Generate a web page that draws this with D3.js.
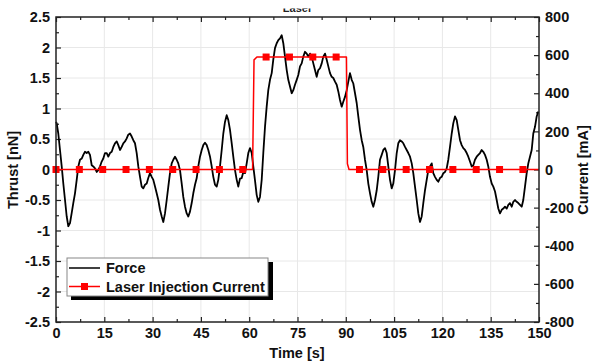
<!DOCTYPE html>
<html>
<head>
<meta charset="utf-8">
<script src="https://cdn.jsdelivr.net/npm/d3@7"></script>
<style>
  html, body { margin: 0; padding: 0; background: #fff; }
  svg { display: block; }
  text { font-family: "Liberation Sans", Arial, sans-serif; font-weight: bold; }
</style>
</head>
<body>
<svg id="chart" width="595" height="361"></svg>
<script>
// Measured thrust (nN) against time (s)
const forceTime = [0,0.2,0.71,1.24,1.77,2.27,2.80,3.32,3.82,4.35,4.88,5.37,5.90,6.43,6.93,7.45,7.98,8.48,9.01,9.53,10.03,10.56,11.09,11.58,12.11,12.64,13.14,13.66,14.19,14.69,15.22,15.75,16.24,16.77,17.30,17.80,18.32,18.85,19.35,19.88,20.40,20.90,21.43,21.96,22.45,22.98,23.51,24.01,24.53,25.06,25.56,26.09,26.61,27.11,27.64,28.17,28.66,29.19,29.72,30.22,30.75,31.27,31.77,32.30,32.83,33.32,33.85,34.38,34.88,35.40,35.93,36.43,36.96,37.48,37.98,38.51,39.04,39.53,40.06,40.59,41.09,41.61,42.14,42.64,43.17,43.70,44.19,44.72,45.25,45.75,46.27,46.80,47.30,47.83,48.35,48.85,49.38,49.91,50.40,50.93,51.46,51.96,52.48,53.01,53.51,54.04,54.57,55.06,55.59,56.12,56.61,57.14,57.67,58.17,58.70,59.22,59.72,60.25,60.78,61.27,61.80,62.33,62.83,63.35,63.88,64.38,64.91,65.43,65.93,66.46,66.99,67.48,68.01,68.54,69.04,69.57,70.09,70.59,71.12,71.65,72.14,72.67,73.20,73.70,74.22,74.75,75.25,75.78,76.30,76.80,77.33,77.86,78.35,78.88,79.41,79.91,80.43,80.96,81.46,81.99,82.52,83.01,83.54,84.07,84.57,85.09,85.62,86.12,86.65,87.17,87.67,88.20,88.73,89.22,89.75,90.28,90.78,91.30,91.83,92.33,92.86,93.38,93.88,94.41,94.94,95.43,95.96,96.49,96.99,97.52,98.04,98.54,99.07,99.60,100.09,100.62,101.15,101.65,102.17,102.70,103.20,103.73,104.25,104.75,105.28,105.81,106.30,106.83,107.36,107.86,108.39,108.91,109.41,109.94,110.47,110.96,111.49,112.02,112.52,113.04,113.57,114.07,114.60,115.12,115.62,116.15,116.68,117.17,117.70,118.23,118.73,119.25,119.78,120.28,120.81,121.34,121.83,122.36,122.89,123.39,123.91,124.44,124.94,125.47,125.99,126.49,127.02,127.55,128.04,128.57,129.10,129.60,130.12,130.65,131.15,131.68,132.20,132.70,133.23,133.76,134.25,134.78,135.31,135.81,136.34,136.86,137.36,137.89,138.42,138.91,139.44,139.97,140.47,140.99,141.52,142.02,142.55,143.07,143.57,144.10,144.63,145.12,145.65,146.18,146.68,147.20,147.73,148.23,148.76,149.28,149.78];
const forceValue = [0.78,0.76,0.59,0.32,0.05,-0.23,-0.50,-0.77,-0.93,-0.88,-0.71,-0.55,-0.39,-0.17,0.05,0.16,0.18,0.24,0.29,0.27,0.29,0.24,0.07,0.05,0.02,-0.04,-0.01,0.05,0.13,0.18,0.27,0.27,0.21,0.27,0.29,0.37,0.43,0.46,0.40,0.32,0.37,0.43,0.46,0.51,0.57,0.59,0.54,0.48,0.43,0.27,0.05,-0.12,-0.28,-0.31,-0.25,-0.23,-0.14,-0.06,-0.12,-0.17,-0.28,-0.39,-0.50,-0.66,-0.77,-0.86,-0.72,-0.50,-0.28,-0.06,0.10,0.16,0.21,0.16,0.10,-0.01,-0.23,-0.45,-0.61,-0.72,-0.77,-0.69,-0.55,-0.39,-0.25,-0.14,0.05,0.21,0.32,0.40,0.44,0.40,0.32,0.21,0.05,-0.12,-0.25,-0.28,-0.17,0.05,0.32,0.59,0.78,0.89,0.81,0.65,0.43,0.21,-0.01,-0.17,-0.28,-0.15,-0.14,-0.04,-0.06,0.10,0.27,0.35,0.27,0.05,-0.18,-0.42,-0.53,-0.45,-0.17,0.27,0.70,1.03,1.30,1.47,1.58,1.80,1.99,2.07,2.12,2.15,2.20,2.07,1.85,1.63,1.47,1.36,1.25,1.30,1.39,1.47,1.55,1.69,1.74,1.85,1.93,1.90,1.85,1.90,1.85,1.74,1.63,1.52,1.63,1.66,1.74,1.85,1.90,1.80,1.69,1.58,1.52,1.50,1.44,1.39,1.28,1.14,1.03,1.11,1.19,1.30,1.44,1.58,1.47,1.41,1.25,1.09,0.87,0.65,0.48,0.37,0.16,-0.01,-0.23,-0.39,-0.53,-0.61,-0.50,-0.34,-0.12,0.16,0.24,0.32,0.35,0.27,0.05,-0.17,-0.31,-0.23,-0.01,0.27,0.43,0.48,0.46,0.43,0.37,0.32,0.27,0.21,0.10,-0.06,-0.28,-0.50,-0.72,-0.86,-0.77,-0.55,-0.34,-0.17,-0.01,0.05,0.10,-0.06,-0.12,-0.17,-0.20,-0.14,-0.12,-0.06,-0.04,0.02,0.16,0.37,0.59,0.76,0.87,0.81,0.65,0.48,0.40,0.35,0.32,0.27,0.21,0.13,0.05,0.07,0.16,0.21,0.24,0.27,0.32,0.29,0.24,0.16,0.05,-0.12,-0.23,-0.28,-0.36,-0.50,-0.64,-0.72,-0.66,-0.64,-0.61,-0.64,-0.58,-0.55,-0.61,-0.53,-0.50,-0.53,-0.55,-0.58,-0.61,-0.50,-0.28,-0.06,0.10,0.21,0.32,0.59,0.70,0.87,0.95];

// Laser injection current (mA) against time (s)
const currentTime  = [0, 61.05, 61.5, 62.4, 90.2, 90.5, 91.0, 150];
const currentValue = [0, 0, 575, 590, 590, 30, 0, 0];

// Square symbols on the current trace
const markerTime    = [0,7.25,14.5,21.75,29,36.25,43.5,50.75,58,65.25,72.5,79.75,87,94.25,101.5,108.75,116,123.25,130.5,137.75,145];
const markerCurrent = [0,0,0,0,0,0,0,0,0,590,590,590,590,0,0,0,0,0,0,0,0];

// Tick values
const xTicks      = [0,15,30,45,60,75,90,105,120,135,150];
const xMinor      = [7.5,22.5,37.5,52.5,67.5,82.5,97.5,112.5,127.5,142.5];
const yLeftTicks  = [-2.5,-2,-1.5,-1,-0.5,0,0.5,1,1.5,2,2.5];
const yLeftMinor  = [-2.25,-1.75,-1.25,-0.75,-0.25,0.25,0.75,1.25,1.75,2.25];
const yRightTicks = [-800,-600,-400,-200,0,200,400,600,800];
const yRightMinor = [-700,-500,-300,-100,100,300,500,700];

const svg = d3.select("#chart");
const L = 56, R = 539, T = 17, B = 322;
const FS = 14.5;
const plain = d => String(d);   // hyphen-minus labels

const x  = d3.scaleLinear().domain([0,150]).range([L,R]);
const yL = d3.scaleLinear().domain([-2.5,2.5]).range([B,T]);
const yR = d3.scaleLinear().domain([-800,800]).range([B,T]);

// Title strip, mostly outside the drawn area
svg.append("clipPath").attr("id","titleClip")
  .append("rect").attr("x",0).attr("y",8.5).attr("width",595).attr("height",5);
svg.append("text").attr("clip-path","url(#titleClip)")
  .attr("x",297.5).attr("y",11.5).attr("text-anchor","middle")
  .attr("font-size",11).attr("fill","#222").text("Laser");

// Grid
const grid = svg.append("g").attr("stroke","#e8e8e8").attr("stroke-width",1);
grid.selectAll(".gx").data(xTicks.slice(1,-1)).join("line")
  .attr("x1",d=>x(d)).attr("x2",d=>x(d)).attr("y1",T).attr("y2",B);
grid.selectAll(".gy").data(yLeftTicks.slice(1,-1)).join("line")
  .attr("y1",d=>yL(d)).attr("y2",d=>yL(d)).attr("x1",L).attr("x2",R);

// Axes with inward ticks
function styleAxis(g){
  g.select(".domain").remove();
  g.selectAll(".tick line").attr("stroke","#222").attr("stroke-width",1.2);
  g.selectAll(".tick text").attr("font-size",FS).attr("fill","#111")
    .style("font-family",'"Liberation Sans", Arial, sans-serif').style("font-weight","bold");
}
svg.append("g").attr("transform",`translate(0,${B})`)
  .call(d3.axisBottom(x).tickValues(xTicks).tickSize(-5).tickPadding(6).tickFormat(plain))
  .call(styleAxis);
svg.append("g").attr("transform",`translate(0,${B})`)
  .call(d3.axisBottom(x).tickValues(xMinor).tickSize(-3).tickFormat(""))
  .call(styleAxis);
svg.append("g").attr("transform",`translate(0,${T})`)
  .call(d3.axisTop(x).tickValues(xTicks).tickSize(-5).tickFormat(""))
  .call(styleAxis);
svg.append("g").attr("transform",`translate(0,${T})`)
  .call(d3.axisTop(x).tickValues(xMinor).tickSize(-3).tickFormat(""))
  .call(styleAxis);
svg.append("g").attr("transform",`translate(${L},0)`)
  .call(d3.axisLeft(yL).tickValues(yLeftTicks).tickSize(-5).tickPadding(6).tickFormat(plain))
  .call(styleAxis);
svg.append("g").attr("transform",`translate(${L},0)`)
  .call(d3.axisLeft(yL).tickValues(yLeftMinor).tickSize(-3).tickFormat(""))
  .call(styleAxis);
svg.append("g").attr("transform",`translate(${R},0)`)
  .call(d3.axisRight(yR).tickValues(yRightTicks).tickSize(-5).tickPadding(6).tickFormat(plain))
  .call(styleAxis);
svg.append("g").attr("transform",`translate(${R},0)`)
  .call(d3.axisRight(yR).tickValues(yRightMinor).tickSize(-3).tickFormat(""))
  .call(styleAxis);

// Force trace
const forceData = forceTime.map((t,i)=>[t, forceValue[i]]);
svg.append("path").datum(forceData)
  .attr("fill","none").attr("stroke","#000").attr("stroke-width",1.8)
  .attr("stroke-linejoin","round")
  .attr("d", d3.line().x(d=>x(d[0])).y(d=>yL(d[1])));

// Current trace with square symbols
const currentData = currentTime.map((t,i)=>[t, currentValue[i]]);
svg.append("path").datum(currentData)
  .attr("fill","none").attr("stroke","#ff0000").attr("stroke-width",1.5)
  .attr("stroke-linejoin","round")
  .attr("d", d3.line().x(d=>x(d[0])).y(d=>yR(d[1])));
const sq = 7;
svg.append("g").attr("fill","#ff0000")
  .selectAll("rect").data(markerTime.map((t,i)=>[t, markerCurrent[i]])).join("rect")
  .attr("x",d=>x(d[0])-sq/2).attr("y",d=>yR(d[1])-sq/2)
  .attr("width",sq).attr("height",sq);

// Frame
svg.append("rect").attr("x",L).attr("y",T).attr("width",R-L).attr("height",B-T)
  .attr("fill","none").attr("stroke","#222").attr("stroke-width",1.5);

// Axis titles
svg.append("text").attr("transform",`translate(18,170) rotate(-90)`)
  .attr("text-anchor","middle").attr("font-size",FS).attr("fill","#111").text("Thrust [nN]");
svg.append("text").attr("transform",`translate(588,170) rotate(-90)`)
  .attr("text-anchor","middle").attr("font-size",FS).attr("fill","#111").text("Current [mA]");
svg.append("text").attr("x",297).attr("y",358)
  .attr("text-anchor","middle").attr("font-size",FS).attr("fill","#111").text("Time [s]");

// Legend
const lg = svg.append("g");
lg.append("rect").attr("x",71).attr("y",262).attr("width",202).attr("height",38).attr("fill","#000");
lg.append("rect").attr("x",67).attr("y",258).attr("width",201).attr("height",38)
  .attr("fill","#fff").attr("stroke","#888").attr("stroke-width",1);
lg.append("line").attr("x1",69).attr("x2",100).attr("y1",268).attr("y2",268)
  .attr("stroke","#000").attr("stroke-width",1.5);
lg.append("text").attr("x",106).attr("y",273).attr("font-size",FS).attr("fill","#111").text("Force");
lg.append("line").attr("x1",69).attr("x2",100).attr("y1",286.5).attr("y2",286.5)
  .attr("stroke","#ff0000").attr("stroke-width",1.5);
lg.append("rect").attr("x",84.5-sq/2).attr("y",286.5-sq/2).attr("width",sq).attr("height",sq).attr("fill","#ff0000");
lg.append("text").attr("x",106).attr("y",291.5).attr("font-size",FS).attr("fill","#111").text("Laser Injection Current");
</script>
</body>
</html>
